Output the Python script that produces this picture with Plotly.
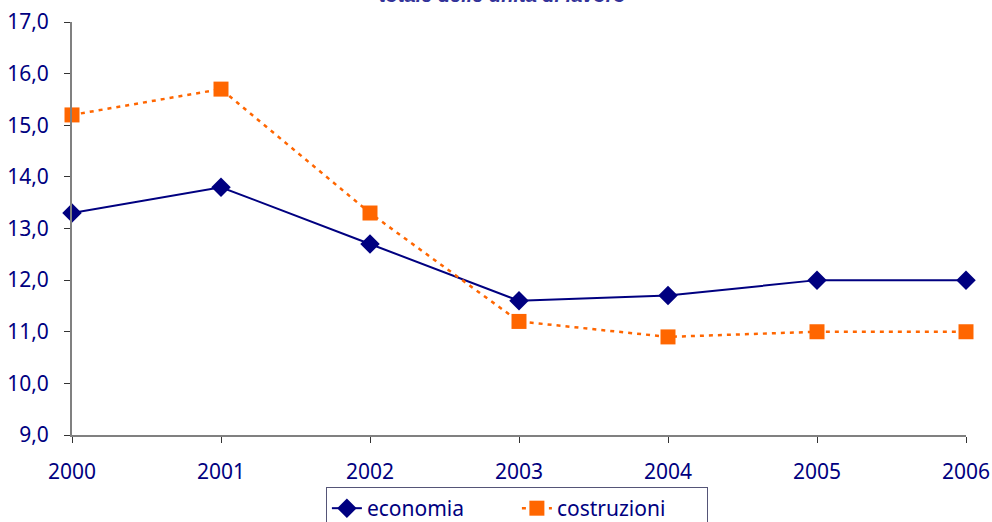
import plotly.graph_objects as go

years = [2000, 2001, 2002, 2003, 2004, 2005, 2006]
economia = [13.3, 13.8, 12.7, 11.6, 11.7, 12.0, 12.0]
costruzioni = [15.2, 15.7, 13.3, 11.2, 10.9, 11.0, 11.0]
y_tickvals = [9, 10, 11, 12, 13, 14, 15, 16, 17]
y_ticktext = ["9,0", "10,0", "11,0", "12,0", "13,0", "14,0", "15,0", "16,0", "17,0"]
x_ticktext = [str(y) for y in years]
title_text = "totale delle unità di lavoro"

NAVY = "#000080"
ORANGE = "#FF6600"
FONT = "Noto Sans"

fig = go.Figure()
fig.add_trace(go.Scatter(
    x=years, y=economia, name="economia", mode="lines+markers",
    line=dict(color=NAVY, width=2),
    marker=dict(symbol="diamond", size=15, color=NAVY),
    cliponaxis=False,
))
fig.add_trace(go.Scatter(
    x=years, y=costruzioni, name="costruzioni", mode="lines+markers",
    line=dict(color=ORANGE, width=2.5, dash="4px,5px"),
    marker=dict(symbol="square", size=15, color=ORANGE),
    cliponaxis=False,
))

fig.update_layout(
    width=992, height=522,
    margin=dict(l=72, r=26, t=22, b=87, autoexpand=False),
    paper_bgcolor="white", plot_bgcolor="white",
    font=dict(family=FONT, size=21, color=NAVY),
    showlegend=True,
    legend=dict(
        orientation="h", x=0.284, xanchor="left", y=-0.126, yanchor="top",
        bordercolor="#555577", borderwidth=1, bgcolor="white",
        font=dict(family=FONT, size=21, color=NAVY),
        entrywidth=145, entrywidthmode="pixels",
        itemwidth=30, tracegroupgap=0,
    ),
    annotations=[dict(
        text="<b><i>" + title_text + "</i></b>", xref="paper", yref="paper",
        x=0.482, y=1.035, xanchor="center", yanchor="bottom", showarrow=False,
        font=dict(family="Liberation Sans", size=20, color="#333399"),
    )],
)
fig.update_xaxes(
    range=[2000, 2006], tickvals=years, ticktext=x_ticktext,
    showgrid=False, zeroline=False, showline=True, linecolor="#808080", linewidth=2,
    ticks="outside", ticklen=6, tickcolor="#333333", tickwidth=1,
    ticklabelstandoff=11, tickfont=dict(family=FONT, size=21, color=NAVY),
)
fig.update_yaxes(
    range=[9, 17], tickvals=y_tickvals, ticktext=y_ticktext,
    showgrid=False, zeroline=False, showline=True, linecolor="#808080", linewidth=2,
    ticks="outside", ticklen=6, tickcolor="#333333", tickwidth=1,
    ticklabelstandoff=11, tickfont=dict(family=FONT, size=21, color=NAVY),
)

fig.write_html("out.html")
